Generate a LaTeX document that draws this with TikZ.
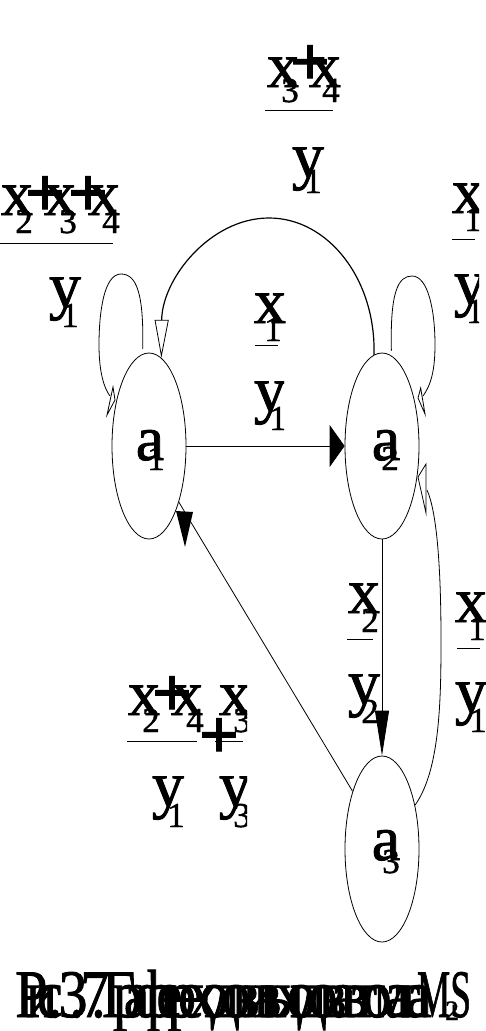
\documentclass[tikz,border=0pt]{standalone}
\usepackage{fontspec}
\usepackage{graphicx}
\setmainfont{Liberation Serif}
\newfontfamily\hv{Liberation Serif}[FakeBold=1.3]
\newfontfamily\hvb{Liberation Serif Bold}[FakeBold=1.5]
\usetikzlibrary{shapes.geometric,arrows.meta}
\newcommand\glph[4]{\node[#1] (#2) at (#3) {#4};}
\newlength\sqw
\setlength\sqw{10.86pt}
\def\sqloop#1{\ifx\relax#1\else\makebox[\sqw][l]{\scalebox{0.85}[1]{#1}}\expandafter\sqloop\fi}
\newcommand\squeezed[1]{\sqloop#1\relax}
\begin{document}
\begin{tikzpicture}[x=1pt,y=-1pt,
  big/.style={font=\hv\fontsize{64}{64}\selectfont, inner sep=0pt, anchor=base},
  sb/.style={font=\hv\fontsize{35}{35}\selectfont, inner sep=0pt, anchor=base},
  pl/.style={font=\hvb\fontsize{70}{70}\selectfont, inner sep=0pt, anchor=base},
  st/.style={draw, line width=0.8pt, ellipse, minimum width=74pt, minimum height=186pt, inner sep=0pt, fill=white},
  ln/.style={line width=0.8pt},
  bar/.style={line width=0.6pt},
  hd/.style={draw, line width=0.8pt, fill=white, line join=miter},
  fhd/.style={fill=black}
]
\useasboundingbox (0,0) rectangle (485,1031);

% states
\node[st] (a1) at (149,446) {};
\node[st] (a2) at (382,446) {};
\node[st] (a3) at (382,849) {};
\glph{big}{a1a}{150,460}{a}
\glph{sb}{a1s}{156,470}{1}
\glph{big}{a2a}{386,460}{a}
\glph{sb}{a2s}{390,470}{2}
\glph{big}{a3a}{386,860}{a}
\glph{sb}{a3s}{391,873}{3}

% a1 -> a2
\draw[ln, -{Triangle[length=15pt,width=42pt]}] (a1.east) -- (a2.west);
% a2 -> a3
\draw[ln, -{Triangle[length=45pt,width=14pt]}] (a2.south) -- (a3.north);
% a3 -> a1
\draw[ln] (a3.117) -- (a1.-62);
\fill[fhd] (176,511) -- (193,512) -- (185,547) -- cycle;
% a2 -> a1 arc
\draw[line width=1.2pt, -{Triangle[open,length=38pt,width=14pt,line width=0.8pt]}]
  (a2.95) .. controls (376,279) and (328,218) .. (269,218)
  .. controls (210,218) and (162,279) .. (a1.82);
% a1 self loop
\draw[ln, shorten <=5pt] (a1.94) .. controls (144,292) and (136,274) .. (121,274)
  .. controls (104,274) and (99,312) .. (99,345)
  .. controls (99,372) and (104,388) .. (110,396);
\filldraw[hd] (113,387) -- (115,400) -- (107,415) -- cycle;
% a2 self loop
\draw[ln, shorten <=5pt] (a2.84) .. controls (390,292) and (398,276) .. (412,276)
  .. controls (428,276) and (435,310) .. (435,345)
  .. controls (435,370) and (431,385) .. (423,396);
\filldraw[hd] (420.7,388) -- (418,398) -- (425,414) -- cycle;
% a3 -> a2 loop
\draw[ln] (a3.53) .. controls (440,770) and (441,700) .. (441,640)
  .. controls (441,560) and (436,510) .. (427,490);
\filldraw[hd] (418,477) -- (426,464) -- (426,513) -- cycle;

% top label (x3+x4)/y1
\glph{big}{ta1}{283,87}{x}
\glph{sb}{ta2}{290,102}{3}
\glph{pl}{ta3}{310,85}{+}
\glph{big}{ta4}{325,87}{x}
\glph{sb}{ta5}{331,102}{4}
\draw[bar] (265,110) -- (333,110);
\glph{big}{ta6}{308,177}{y}
\glph{sb}{ta7}{313,193}{1}

% left top label (x2+x3+x4)/y1
\glph{big}{lb1}{17,215}{x}
\glph{sb}{lb2}{24,233}{2}
\glph{pl}{lb3}{45,216}{+}
\glph{big}{lb4}{60,215}{x}
\glph{sb}{lb5}{68,233}{3}
\glph{pl}{lb6}{88,216}{+}
\glph{big}{lb7}{104,215}{x}
\glph{sb}{lb8}{111,233}{4}
\draw[bar] (0,243) -- (113,243);
\glph{big}{lb9}{65,307}{y}
\glph{sb}{lb10}{70,327}{1}

% right top label x1/y1
\begin{scope}
\clip (0,0) rectangle (479,1031);
\glph{big}{rt1}{468,213}{x}
\glph{sb}{rt2}{473,231}{1}
\glph{big}{rt3}{470,304}{y}
\glph{sb}{rt4}{475,323}{1}
\end{scope}
\draw[bar] (452,239) -- (475,239);

% middle label x1/y1
\glph{big}{md1}{270,323}{x}
\glph{sb}{md2}{273,341}{1}
\draw[bar] (255,345) -- (278,345);
\begin{scope}
\clip (0,0) rectangle (284,1031);
\glph{big}{md3}{270,411}{y}
\glph{sb}{md4}{278,430}{1}
\end{scope}

% vertical edge label x2/y2
\glph{big}{vt1}{364,613}{x}
\glph{sb}{vt2}{370,632}{2}
\draw[bar] (347,639) -- (373,639);
\glph{big}{vt3}{364,704}{y}
\glph{sb}{vt4}{370,723}{2}

% lower right label x1/y1
\glph{big}{lr1}{471,622}{x}
\glph{sb}{lr2}{477,640}{1}
\draw[bar] (457,648) -- (480,648);
\glph{big}{lr3}{471,712}{y}
\glph{sb}{lr4}{478,732}{1}

% lower left label (x2+x4)/y1 + x3/y3
\glph{big}{ll1}{144,715}{x}
\glph{sb}{ll2}{151,732}{2}
\glph{pl}{ll3}{172,716}{+}
\glph{big}{ll4}{187,715}{x}
\glph{sb}{ll5}{195,732}{4}
\draw[bar] (127,741) -- (197,741);
\draw[bar] (215,741) -- (243,741);
\glph{pl}{ll6}{219,758}{+}
\glph{big}{ll7}{168,806}{y}
\glph{sb}{ll8}{176,827}{1}
\begin{scope}
\clip (0,0) rectangle (247,1031);
\glph{big}{ll9}{235,715}{x}
\glph{sb}{ll10}{242,732}{3}
\glph{big}{ll11}{235,806}{y}
\glph{sb}{ll12}{242,827}{3}
\end{scope}

% caption
\node[inner sep=0pt, anchor=base west, font=\hv\fontsize{68}{68}\selectfont] (cap) at (15,1017)
  {\squeezed{Рис.3.7.Графпереходовивыходовавтомата}\scalebox{0.55}[1]{MS}\kern-26pt\raisebox{-3pt}{\fontsize{28}{28}\selectfont 2}};
\end{tikzpicture}
\end{document}
